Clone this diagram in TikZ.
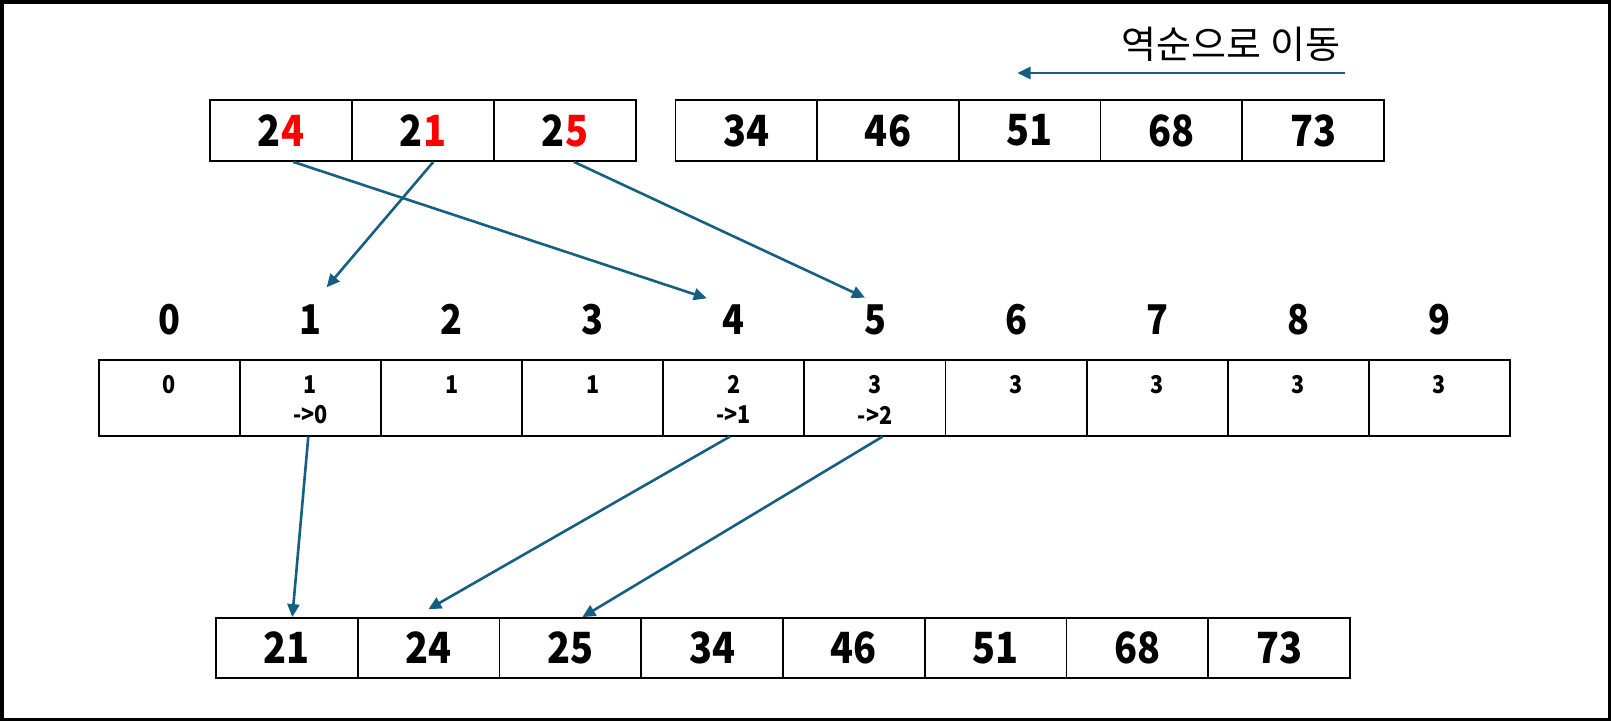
\documentclass[tikz,border=0pt]{standalone}
\usepackage{fontspec}
\setmainfont{Noto Sans CJK KR}
\newfontfamily\numfont{Noto Sans CJK KR}[FakeStretch=0.88]
\usetikzlibrary{arrows.meta}
\definecolor{acc}{HTML}{156082}
\definecolor{hot}{HTML}{FF0000}
\begin{document}
\begin{tikzpicture}[x=1pt,y=-1pt,
  cellbox/.style={draw=black, line width=1.8pt, inner sep=0pt, minimum width=#1},
  toprow/.style={cellbox=142pt, minimum height=61pt, font=\fontsize{43}{50}\numfont\bfseries},
  toprowr/.style={cellbox=141.7pt, minimum height=61pt, font=\fontsize{43}{50}\numfont\bfseries},
  midrow/.style={cellbox=141.1pt, minimum height=76pt},
  botrow/.style={cellbox=141.75pt, minimum height=60pt, font=\fontsize{43}{50}\numfont\bfseries},
  idxlbl/.style={inner sep=0pt, font=\fontsize{41}{48}\numfont\bfseries},
  midtxt/.style={inner sep=0pt, font=\fontsize{24.5}{30}\numfont\bfseries},
  kortxt/.style={inner sep=0pt, font=\fontsize{38}{46}\selectfont},
  conn/.style={draw=acc, line width=2.6pt, -{Triangle[length=13pt,width=12pt]}}
]
\useasboundingbox (0,0) rectangle (1611,721);
\draw[line width=3.5pt] (1.75,1.75) rectangle (1609.25,719.25);

% header
\node[kortxt] (title) at (1231,44.5) {역순으로 이동};
\coordinate (dirS) at (1345,73);
\coordinate (dirE) at (1017.5,73);
\draw[conn] (dirS) -- (dirE);

% top row, left group
\node[toprow] (t0) at (281,130.5) {2\textcolor{hot}{4}};
\node[toprow] (t1) at (423,130.5) {2\textcolor{hot}{1}};
\node[toprow] (t2) at (565,130.5) {2\textcolor{hot}{5}};
% top row, right group
\node[toprowr] (r0) at (746.3,130.5) {34};
\node[toprowr] (r1) at (888,130.5) {46};
\node[toprowr] (r2) at (1029.7,130.5) {51};
\node[toprowr] (r3) at (1171.4,130.5) {68};
\node[toprowr] (r4) at (1313.1,130.5) {73};

% index labels
\foreach \i/\x in {0/169.3,1/310.4,2/451.6,3/592.7,4/733.8,5/875,6/1016.1,7/1157.2,8/1298.3,9/1439.4}{
  \node[idxlbl] (i\i) at (\x,319.5) {\i};
  \node[midrow] (m\i) at (\x,397.6) {};
}
% counts
\node[midtxt] (v0) at (169.3,384.7) {0};
\node[midtxt] (v1) at (310.4,384.7) {1};
\node[midtxt] (p1) at (310.4,415) {->0};
\node[midtxt] (v2) at (451.6,384.7) {1};
\node[midtxt] (v3) at (592.7,384.7) {1};
\node[midtxt] (v4) at (733.8,384.7) {2};
\node[midtxt] (p4) at (733.8,415) {->1};
\node[midtxt] (v5) at (875,384.7) {3};
\node[midtxt] (p5) at (875,415) {->2};
\node[midtxt] (v6) at (1016.1,384.7) {3};
\node[midtxt] (v7) at (1157.2,384.7) {3};
\node[midtxt] (v8) at (1298.3,384.7) {3};
\node[midtxt] (v9) at (1439.4,384.7) {3};

% bottom row
\node[botrow] (b0) at (286.9,648) {21};
\node[botrow] (b1) at (428.6,648) {24};
\node[botrow] (b2) at (570.4,648) {25};
\node[botrow] (b3) at (712.1,648) {34};
\node[botrow] (b4) at (853.9,648) {46};
\node[botrow] (b5) at (995.6,648) {51};
\node[botrow] (b6) at (1137.4,648) {68};
\node[botrow] (b7) at (1279.1,648) {73};

% arrow targets
\coordinate (h1) at (326.7,287.3);
\coordinate (h4) at (706.7,298.3);
\coordinate (h5) at (865,297.7);
\coordinate (g1) at (428.3,609.3);

% connectors
\draw[conn] ([xshift=10.3pt]t1.south) -- (h1);
\draw[conn] ([xshift=12.3pt]t0.south) -- (h4);
\draw[conn] ([xshift=9pt]t2.south) -- (h5);
\draw[conn] ([xshift=-2.1pt]m1.south) -- ([xshift=5.4pt]b0.north);
\draw[conn] ([xshift=-3.8pt]m4.south) -- (g1);
\draw[conn] ([xshift=7.7pt]m5.south) -- ([xshift=11.9pt]b2.north);
\end{tikzpicture}
\end{document}
